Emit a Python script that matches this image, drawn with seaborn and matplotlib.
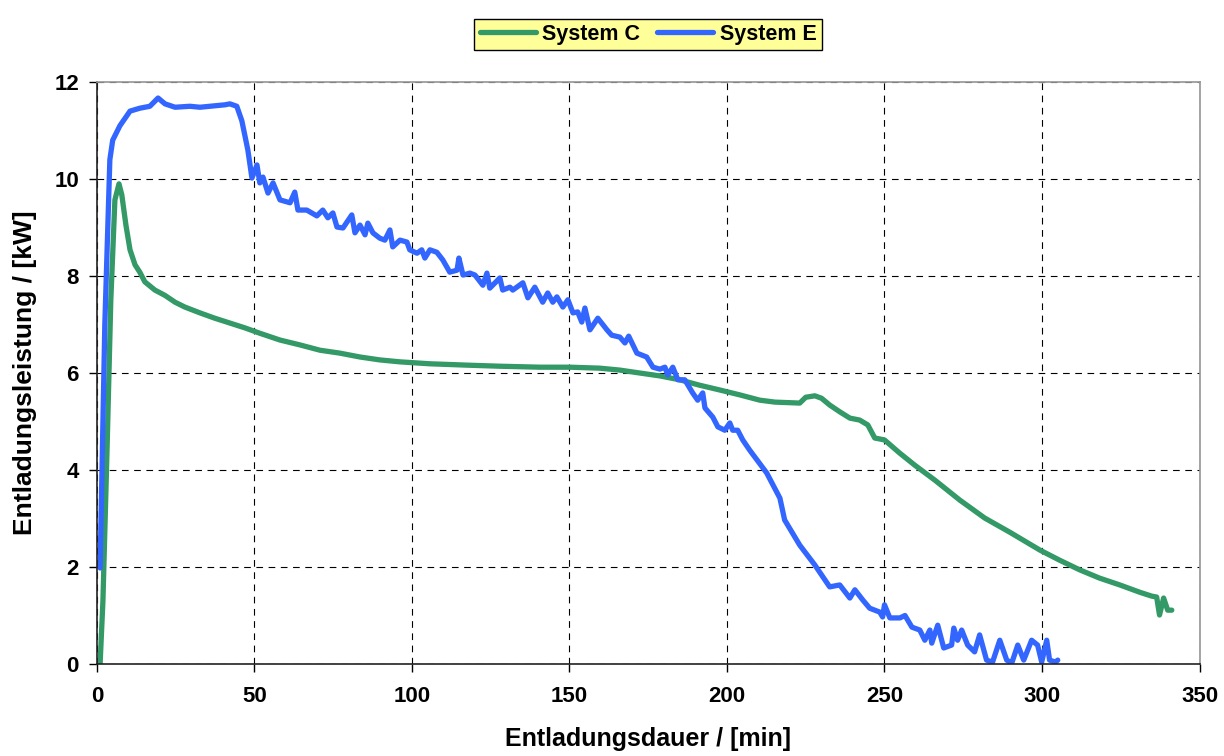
import numpy as np
import pandas as pd
import matplotlib
matplotlib.use("Agg")
import matplotlib.pyplot as plt
import seaborn as sns

# System E (blue)
e_x = [1, 2.5, 4.1, 5, 7.3, 10.5, 13.6, 16.8, 19.4, 21.6, 24.8, 29.5, 32.7, 35.9, 40.6, 42.2, 44.4,
       46, 47.9, 49.2, 50.8, 51.7, 52.7, 54.3, 55.9, 58.1, 61.3, 62.8, 63.8, 66.6, 69.8, 71.7, 73.3,
       74.9, 76.2, 78.1, 80.9, 81.9, 83.5, 85.1, 86.0, 87.6, 89.8, 91.4, 93.0, 93.9, 96.2, 98.4,
       99.3, 101.6, 103.1, 104.1, 105.7, 107.9, 109.8, 112.0, 114.3, 114.9, 116.2, 118.4, 120.0,
       122.5, 123.8, 124.7, 127.9, 128.8, 131.1, 132.0, 135.2, 136.8, 139.0, 141.5, 143.1, 144.7,
       146.0, 147.9, 149.5, 151.1, 152.6, 153.9, 154.9, 156.5, 159.0, 161.9, 163.4, 166.0, 167.6,
       168.8, 171.4, 174.5, 176.5, 178.7, 180.3, 181.2, 182.8, 184.4, 186.6, 189.1, 190.7, 192.3,
       193.0, 195.5, 197.1, 199.3, 200.9, 201.8, 203.4, 205.0, 207.2, 209.5, 212.6, 216.8,
       218.3, 223.1, 227.9, 232.6, 235.8, 239, 240.6, 243.1, 245.3, 248.5, 249.4, 250, 251.7,
       254.9, 256.5, 258.7, 261.2, 262.8, 264.4, 265, 266.9, 268.8, 271.3, 272, 273.2, 274.5,
       276.4, 278.6, 280.2, 282.4, 284.3, 286.6, 288.8, 290.4, 292.3, 294.2, 296.7, 298.6, 299.9,
       301.5, 302.4, 304.3, 305]
e_y = [1.98, 7.0, 10.4, 10.8, 11.1, 11.4, 11.46, 11.5, 11.67, 11.55, 11.48, 11.5, 11.48, 11.5,
       11.53, 11.55, 11.5, 11.2, 10.6, 10.02, 10.29, 9.92, 10.04, 9.71, 9.92, 9.57, 9.51, 9.73,
       9.36, 9.36, 9.24, 9.36, 9.20, 9.30, 9.01, 8.99, 9.26, 8.89, 9.05, 8.85, 9.09, 8.89, 8.78,
       8.74, 8.95, 8.60, 8.74, 8.70, 8.54, 8.47, 8.54, 8.37, 8.54, 8.49, 8.33, 8.08, 8.12, 8.37,
       8.02, 8.06, 8.02, 7.81, 8.06, 7.75, 7.96, 7.71, 7.77, 7.71, 7.86, 7.55, 7.77, 7.46, 7.65,
       7.46, 7.57, 7.36, 7.51, 7.24, 7.26, 7.05, 7.34, 6.89, 7.13, 6.89, 6.78, 6.74, 6.62, 6.76,
       6.41, 6.33, 6.12, 6.08, 6.12, 5.96, 6.12, 5.86, 5.86, 5.59, 5.44, 5.59, 5.28, 5.09, 4.89,
       4.82, 4.97, 4.82, 4.82, 4.62, 4.41, 4.21, 3.94, 3.42,
       2.97, 2.45, 2.04, 1.59, 1.63, 1.36, 1.53, 1.32, 1.15, 1.07, 0.97, 1.22, 0.95, 0.95, 1.0,
       0.76, 0.7, 0.49, 0.7, 0.43, 0.8, 0.33, 0.39, 0.74, 0.49, 0.7, 0.39, 0.25, 0.6, 0.08, 0.04,
       0.49, 0.08, 0.02, 0.39, 0.08, 0.49, 0.39, 0.04, 0.49, 0.08, 0.04, 0.08]

# System C (green)
c_x = [1, 1.9, 3.2, 4.4, 5.7, 7.0, 7.9, 9.2, 10.5, 12.1, 13.6, 15.2, 18.4, 21.6, 24.8, 27.9,
       32.7, 37.4, 42.2, 47, 51.7, 58.1, 64.4, 70.8, 77.1, 83.5, 89.8, 96.2, 105.7, 118.4, 127.9,
       140.6, 150.1, 159.6, 166, 172.3, 178.7, 185, 191.2, 197.7, 204, 210.4, 215.2, 223.1, 225,
       227.9, 230, 232.6, 235.8, 239, 242.1, 244.7, 246.9, 250, 254.8, 259.6, 266, 273.9, 281.8,
       289.7, 299.3, 305.6, 312, 318.3, 324.7, 331, 334.8, 336.4, 337.3, 338.6, 339.9, 341.2]
c_y = [0, 1.3, 4.4, 7.5, 9.57, 9.9, 9.67, 9.05, 8.54, 8.23, 8.08, 7.88, 7.71, 7.6, 7.46, 7.36,
       7.24, 7.13, 7.03, 6.93, 6.82, 6.68, 6.58, 6.47, 6.41, 6.33, 6.27, 6.23, 6.19, 6.16, 6.14,
       6.12, 6.12, 6.1, 6.06, 6.0, 5.94, 5.86, 5.75, 5.65, 5.55, 5.44, 5.4, 5.38, 5.5, 5.53, 5.48,
       5.34, 5.2, 5.07, 5.03, 4.93, 4.66, 4.62, 4.35, 4.1, 3.79, 3.38, 3.01, 2.72, 2.35, 2.14,
       1.94, 1.77, 1.63, 1.48, 1.4, 1.38, 1.01, 1.36, 1.11, 1.11]

x_ticks = [0, 50, 100, 150, 200, 250, 300, 350]
y_ticks = [0, 2, 4, 6, 8, 10, 12]

df = pd.concat([
    pd.DataFrame({"t": c_x, "p": c_y, "System": "System C"}),
    pd.DataFrame({"t": e_x, "p": e_y, "System": "System E"}),
])

sns.set_theme(style="white")
plt.rcParams['font.family'] = ['Liberation Sans', 'DejaVu Sans']
plt.rcParams['text.color'] = 'black'
plt.rcParams['axes.labelcolor'] = 'black'
plt.rcParams['xtick.color'] = 'black'
plt.rcParams['ytick.color'] = 'black'
plt.rcParams['lines.solid_joinstyle'] = 'round'
plt.rcParams['lines.solid_capstyle'] = 'round'

fig = plt.figure(figsize=(12.24, 7.56), dpi=100)
ax = fig.add_axes([0.0792, 0.1217, 0.9008, 0.7698])

sns.lineplot(data=df, x="t", y="p", hue="System", sort=False, estimator=None,
             palette={"System C": "#339966", "System E": "#3366FF"},
             linewidth=3.8, ax=ax)

ax.set_xlim(0, 350)
ax.set_ylim(0, 12)
ax.set_xticks(x_ticks)
ax.set_yticks(y_ticks)
ax.set_xticklabels([str(v) for v in x_ticks], fontsize=16, fontweight='bold')
ax.set_yticklabels([str(v) for v in y_ticks], fontsize=16, fontweight='bold')
ax.grid(True, color='black', linestyle=(0, (6, 5)), linewidth=0.8)
ax.set_axisbelow(True)
ax.tick_params(axis='x', direction='out', length=6, width=1, color='black', pad=10,
               bottom=True)
ax.tick_params(axis='y', direction='out', length=6, width=1, color='black', pad=7,
               left=True)
ax.spines['left'].set_color('#222222')
ax.spines['bottom'].set_color('#222222')
ax.spines['left'].set_linewidth(1.2)
ax.spines['bottom'].set_linewidth(1.2)
ax.spines['top'].set_color('#999999')
ax.spines['right'].set_color('#999999')

ax.set_xlabel("Entladungsdauer / [min]", fontsize=18, fontweight='bold', labelpad=14)
ax.set_ylabel("Entladungsleistung / [kW]", fontsize=19, fontweight='bold', labelpad=12)

leg = ax.legend(loc='lower center', bbox_to_anchor=(0.5, 1.036), ncol=2, frameon=True,
                fancybox=False, handlelength=2.6, handletextpad=0.3,
                columnspacing=0.8, borderpad=0.25, prop={'weight': 'bold', 'size': 15.5})
leg.get_frame().set_facecolor('#FFFF99')
leg.get_frame().set_edgecolor('black')
leg.get_frame().set_alpha(1)
for line in leg.get_lines():
    line.set_linewidth(3.8)

fig.savefig("out.png", dpi=100)
